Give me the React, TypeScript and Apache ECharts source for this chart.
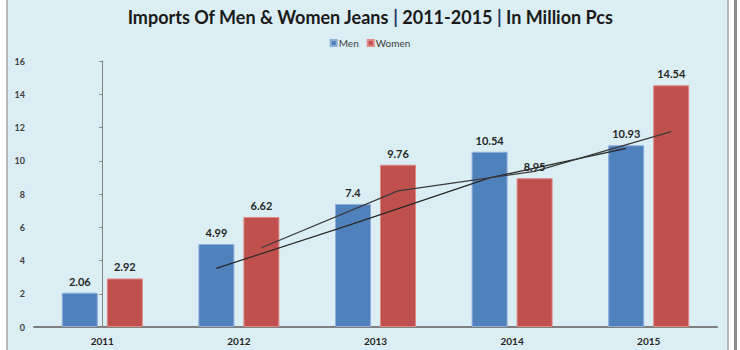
import React, { useEffect, useRef } from "react";
import * as echarts from "echarts";

const years = ["2011", "2012", "2013", "2014", "2015"];
const men = [2.06, 4.99, 7.4, 10.54, 10.93];
const women = [2.92, 6.62, 9.76, 8.95, 14.54];
// trend lines (2-period moving average as drawn), starting at 2012
const menTrend = [3.53, 6.2, 8.97, 10.74];
const womenTrend = [4.77, 8.19, 9.36, 11.75];
const trendStart = 1;

const BAR_OFFSET = 0.165; // fraction of a category between its centre and a bar's centre

export default function App() {
  const ref = useRef<HTMLDivElement>(null);
  useEffect(() => {
    const chart = echarts.init(ref.current!, null, { renderer: "svg" });
    const font = "Lato, 'Open Sans', sans-serif";
    const labelStyle = {
      show: true,
      position: "top" as const,
      distance: 6,
      fontFamily: font,
      fontWeight: "bold" as const,
      fontSize: 11,
      color: "#262626",
    };
    chart.setOption({
      animation: false,
      backgroundColor: "#ffffff",
      graphic: [
        {
          type: "rect",
          z: -10,
          silent: true,
          shape: { x: 7, y: -2, width: 721, height: 360 },
          style: { fill: "#DBEEF4", stroke: "#A6A6A6", lineWidth: 1.5 },
        },
        {
          type: "rect",
          z: -10,
          silent: true,
          shape: { x: 734, y: 0, width: 3, height: 350 },
          style: { fill: "#8C8C8C" },
        },
      ],
      title: {
        left: "center",
        top: 3,
        text: "{t|Imports Of Men & Women Jeans }{p||}{t| 2011-2015 }{p||}{t| In Million Pcs}",
        textStyle: {
          rich: {
            t: { fontFamily: font, fontWeight: "bold", fontSize: 18, color: "#1a1a1a" },
            p: { fontFamily: font, fontWeight: "bold", fontSize: 18, color: "#1F3864" },
          },
        },
      },
      legend: {
        top: 33,
        left: "center",
        itemWidth: 6,
        itemHeight: 6,
        itemGap: 8,
        icon: "rect",
        data: ["Men", "Women"],
        textStyle: { fontFamily: font, fontSize: 10, color: "#404040", padding: [0, 0, 0, -3] },
      },
      grid: { left: 34, right: 23, top: 61, bottom: 23, containLabel: false },
      xAxis: [
        {
          type: "category",
          data: years,
          axisLine: { lineStyle: { color: "#7F7F7F", width: 2 } },
          axisTick: { show: false },
          axisLabel: {
            fontFamily: font,
            fontWeight: "bold",
            fontSize: 10,
            color: "#262626",
            margin: 9,
          },
        },
        {
          type: "value",
          min: -0.5,
          max: years.length - 0.5,
          show: false,
        },
      ],
      yAxis: {
        type: "value",
        min: 0,
        max: 16,
        interval: 2,
        splitLine: { show: false },
        axisLine: { show: true, lineStyle: { color: "#868686", width: 1 } },
        axisTick: { show: true, length: 3, lineStyle: { color: "#868686" } },
        axisLabel: {
          fontFamily: font,
          fontWeight: "bold",
          fontSize: 9,
          color: "#404040",
          margin: 9,
        },
      },
      series: [
        {
          name: "Men",
          type: "bar",
          data: men,
          barWidth: 36,
          barGap: "25%",
          itemStyle: { color: "#4F81BD", borderColor: "#8EAEDA", borderWidth: 1 },
          label: labelStyle,
        },
        {
          name: "Women",
          type: "bar",
          data: women,
          barWidth: 36,
          itemStyle: { color: "#C0504D", borderColor: "#E08A88", borderWidth: 1 },
          label: labelStyle,
        },
        {
          name: "MenTrend",
          type: "line",
          xAxisIndex: 1,
          data: menTrend.map((v, i) => [i + trendStart - BAR_OFFSET, v]),
          showSymbol: false,
          symbol: "none",
          lineStyle: { color: "#262626", width: 1.2 },
          z: 5,
        },
        {
          name: "WomenTrend",
          type: "line",
          xAxisIndex: 1,
          data: womenTrend.map((v, i) => [i + trendStart + BAR_OFFSET, v]),
          showSymbol: false,
          symbol: "none",
          lineStyle: { color: "#3a3a3a", width: 1.2 },
          z: 5,
        },
      ],
    });
    return () => chart.dispose();
  }, []);
  return (
    <div
      ref={ref}
      style={{ position: "absolute", left: 0, top: 0, width: 740, height: 350 }}
    />
  );
}
